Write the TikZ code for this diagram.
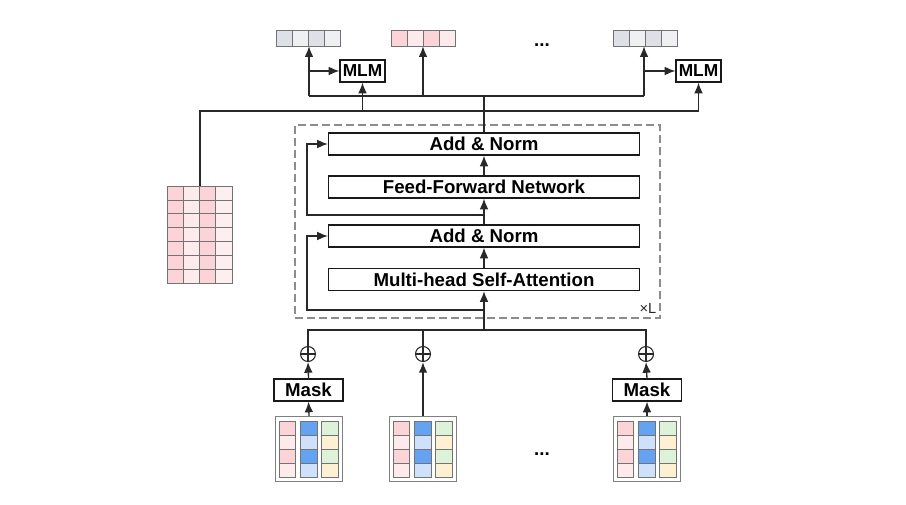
\documentclass[tikz,border=0pt]{standalone}
\usepackage{fontspec}
\setmainfont{Liberation Sans}
\usetikzlibrary{arrows.meta}
\definecolor{pinkD}{RGB}{252,212,215}
\definecolor{pinkL}{RGB}{253,235,236}
\definecolor{pinkLL}{RGB}{253,238,239}
\definecolor{grayD}{RGB}{221,224,230}
\definecolor{grayL}{RGB}{238,240,244}
\definecolor{blueD}{RGB}{100,162,242}
\definecolor{blueL}{RGB}{207,225,250}
\definecolor{greenC}{RGB}{222,242,218}
\definecolor{yellowC}{RGB}{253,240,211}
\definecolor{lineC}{RGB}{40,40,40}
\newcommand\toktable[3]{%
  \node[tabbox, anchor=north west] (#3) at (#1,#2) {};
  \foreach \r/\ca/\cb/\cc in {0/pinkD/blueD/greenC,1/pinkL/blueL/yellowC,2/pinkD/blueD/greenC,3/pinkL/blueL/yellowC}{
    \draw[cell, fill=\ca] (#1+4,#2+5+14*\r) rectangle ++(16,14);
    \draw[cell, fill=\cb] (#1+25,#2+5+14*\r) rectangle ++(17,14);
    \draw[cell, fill=\cc] (#1+46,#2+5+14*\r) rectangle ++(17,14);
  }%
}
\begin{document}
\begin{tikzpicture}[x=0.75pt,y=-0.75pt,
  blk/.style={draw=black!90, line width=0.9pt, fill=white, inner sep=0pt,
    minimum width=233.25pt, minimum height=16.5pt,
    font=\fontsize{14}{16}\selectfont\bfseries},
  small/.style={draw=black!90, line width=0.9pt, fill=white, inner sep=0pt,
    minimum height=16.5pt, font=\fontsize{14}{16}\selectfont\bfseries},
  cell/.style={draw=black!55, line width=0.5pt},
  tabbox/.style={draw=black!50, line width=0.8pt, fill=white, inner sep=0pt,
    minimum width=50.25pt, minimum height=48.75pt},
  vec/.style={inner sep=0pt, minimum width=48pt, minimum height=12pt},
  ln/.style={draw=lineC, line width=1pt},
  arr/.style={ln, -{Latex[length=8pt,width=6.5pt]}},
  oplus/.style={circle, draw=lineC, line width=0.8pt, minimum size=11.25pt, inner sep=0pt,
    path picture={\draw[lineC, line width=0.8pt] (path picture bounding box.north) -- (path picture bounding box.south)
      (path picture bounding box.west) -- (path picture bounding box.east);}},
  dots/.style={inner sep=0pt, font=\fontsize{14}{16}\selectfont\bfseries}
]
\useasboundingbox (0,0) rectangle (906,504);

% top vectors
\foreach \c [count=\i from 0] in {grayD,grayL,grayD,grayL}
  \draw[cell, fill=\c] (276+16*\i,30) rectangle ++(16,16);
\foreach \c [count=\i from 0] in {pinkD,pinkL,pinkD,pinkL}
  \draw[cell, fill=\c] (391+16*\i,30) rectangle ++(16,16);
\foreach \c [count=\i from 0] in {grayD,grayL,grayD,grayL}
  \draw[cell, fill=\c] (613+16*\i,30) rectangle ++(16,16);
\node[vec] (v1) at (308,38) {};
\node[vec] (v2) at (423,38) {};
\node[vec] (v3) at (645,38) {};
\node[dots, anchor=base] (dtop) at (542,46) {...};

% MLM heads
\node[small, minimum width=33.75pt, font=\fontsize{13}{15}\selectfont\bfseries] (mlm1) at (362.5,71) {MLM};
\node[small, minimum width=33.75pt, font=\fontsize{13}{15}\selectfont\bfseries] (mlm2) at (698.5,71) {MLM};

% dashed layer box
\node[draw=black!45, dash pattern=on 6pt off 3pt, line width=0.8pt, inner sep=0pt,
  minimum width=273.75pt, minimum height=144.75pt] (layer) at (477.5,221.5) {};
\node[inner sep=0pt, font=\fontsize{11}{13}\selectfont, text=black!85] (xl) at (648,308) {×L};

% transformer blocks
\node[blk] (an1) at (484,144) {Add \& Norm};
\node[blk] (ffn) at (484,187) {Feed-Forward Network};
\node[blk] (an2) at (484,236) {Add \& Norm};
\node[blk] (mhsa) at (484,279.5) {Multi-head Self-Attention};

% embedding matrix
\node[draw=black!35, line width=0.8pt, inner sep=0pt, minimum width=48.75pt, minimum height=72.75pt,
  anchor=north west] (emb) at (167,186) {};
\foreach \c/\col in {0/pinkD,1/pinkL,2/pinkD,3/pinkLL}
  \foreach \r in {0,...,6}
    \draw[cell, fill=\col] (167+16.25*\c,186+13.857*\r) rectangle ++(16.25,13.857);

% coordinates
\coordinate (h1L) at (309,96);
\coordinate (h1R) at (644,96);
\coordinate (h1M) at (484,96);
\coordinate (h2R) at (698.5,111);
\coordinate (rx) at (307,0);
\coordinate (r1) at (484,215);
\coordinate (r2) at (484,310);
\coordinate (bot) at (484,330);

% output connections
\draw[ln] (an1.north) -- (h1M);
\draw[ln] (h1L) -- (h1R);
\draw[arr] (h1L) -- (h1L |- v1.south);
\draw[arr] (h1L |- mlm1.west) -- (mlm1.west);
\draw[arr] (h1L -| v2.south) -- (v2.south);
\draw[arr] (h1R) -- (h1R |- v3.south);
\draw[arr] (h1R |- mlm2.west) -- (mlm2.west);
\draw[arr] (emb.north) |- (h2R) -- (mlm2.south);
\draw[arr] (mlm1.south |- h2R) -- (mlm1.south);

% inside layer
\draw[arr] (ffn.north) -- (an1.south);
\draw[arr] (an2.north) -- (ffn.south);
\draw[arr] (mhsa.north) -- (an2.south);
\draw[arr] (bot) -- (mhsa.south);
\draw[arr] (r1) -- (r1 -| rx) |- (an1.west);
\draw[arr] (r2) -- (r2 -| rx) |- (an2.west);

% inputs
\node[oplus] (c1) at (308,354) {};
\node[oplus] (c2) at (423,354) {};
\node[oplus] (c3) at (646,354) {};
\node[small, minimum width=51.75pt] (mask1) at (308.5,390) {Mask};
\node[small, minimum width=51.75pt] (mask2) at (647,390) {Mask};
\toktable{275}{416}{t1}
\toktable{389}{416}{t2}
\toktable{613}{416}{t3}
\node[dots, anchor=base] (dbot) at (542,455) {...};

\draw[ln] (c1.north) |- (bot);
\draw[ln] (c3.north) |- (bot);
\draw[ln] (c2.north) -- (c2.north |- bot);
\draw[arr] (mask1.north) -- (c1.south);
\draw[arr] (mask2.north) -- (c3.south);
\draw[arr] (t1.north) -- (mask1.south);
\draw[arr] (t3.north -| mask2.south) -- (mask2.south);
\draw[arr, line width=1.3pt] (t2.north -| c2.south) -- (c2.south);
\end{tikzpicture}
\end{document}
